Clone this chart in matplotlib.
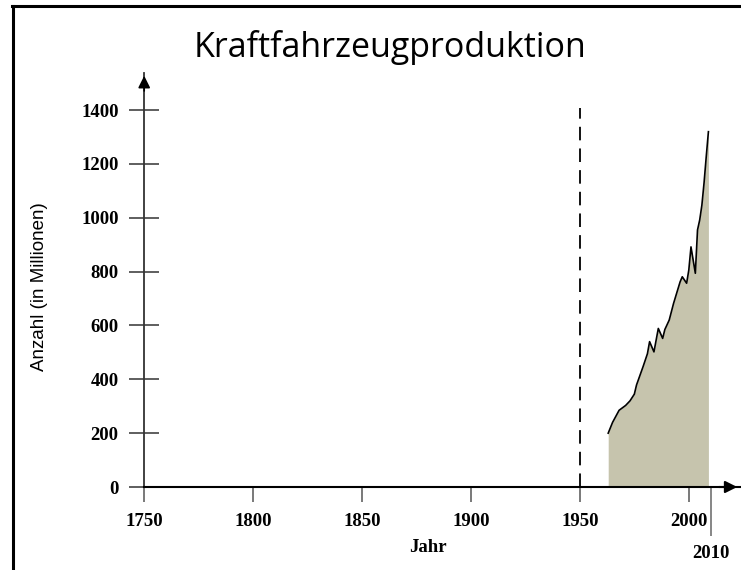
import matplotlib.pyplot as plt
from matplotlib.lines import Line2D
from matplotlib.ticker import FixedLocator, FixedFormatter

# data
years = [1963, 1965, 1968, 1971, 1973, 1975, 1976, 1979, 1981, 1982,
         1984, 1986, 1988, 1989, 1991, 1993, 1996, 1997, 1999, 2000,
         2001, 2002, 2003, 2004, 2005, 2006, 2007, 2008, 2009]
anzahl = [200, 240, 285, 303, 320, 345, 379, 447, 495, 540,
          502, 589, 552, 585, 620, 682, 762, 781, 757, 806,
          892, 843, 794, 955, 992, 1047, 1130, 1227, 1320]

xticks = [1750, 1800, 1850, 1900, 1950, 2000]
yticks = [0, 200, 400, 600, 800, 1000, 1200, 1400]
marker_year = 1950
end_year = 2010

fig = plt.figure(figsize=(7.41, 5.70), dpi=100)
ax = fig.add_axes([144.2 / 741, 83 / 570, (740 - 144.2) / 741, (487 - 73) / 570])
ax.set_xlim(1750, 2023.5)
ax.set_ylim(0, 1538)

ax.fill_between(years, anzahl, 0, color='#c6c4ad', lw=0)
ax.plot(years, anzahl, color='black', lw=1.2)

# dashed line at 1950
ax.plot([marker_year, marker_year], [0, 1408], color='black', lw=1.3,
        dashes=(7.5, 4.5))

for s in ['top', 'right']:
    ax.spines[s].set_visible(False)
ax.spines['bottom'].set_color('black')
ax.spines['bottom'].set_linewidth(1.5)
ax.spines['left'].set_color('#333333')
ax.spines['left'].set_linewidth(1.3)

serif = {'family': 'Liberation Serif', 'weight': 'bold', 'size': 13.5}

ax.set_xticks(xticks)
ax.set_xticklabels([str(x) for x in xticks], fontdict=serif)
ax.tick_params(axis='x', which='major', direction='out', length=10.8,
               width=1.1, color='#555555', pad=8)
ax.xaxis.set_minor_locator(FixedLocator([end_year]))
ax.xaxis.set_minor_formatter(FixedFormatter([str(end_year)]))
ax.tick_params(axis='x', which='minor', direction='out', length=35,
               width=1.1, color='#666666', pad=7)
for lab in ax.xaxis.get_minorticklabels():
    lab.set_fontfamily('Liberation Serif')
    lab.set_fontweight('bold')
    lab.set_fontsize(13.5)

ax.set_yticks(yticks)
ax.set_yticklabels([str(y) for y in yticks], fontdict=serif)
ax.tick_params(axis='y', direction='inout', length=21, width=1.1,
               color='#333333', pad=8)

# arrow heads on the axes
ax.annotate('', xy=(0, 1), xycoords='axes fraction', xytext=(0, 0.95),
            arrowprops=dict(arrowstyle='-|>', color='black', lw=1.2,
                            mutation_scale=18))
ax.annotate('', xy=(1, 0), xycoords='axes fraction', xytext=(0.96, 0),
            arrowprops=dict(arrowstyle='-|>', color='black', lw=1.5,
                            mutation_scale=18))

fig.text(390 / 741, 1 - 57 / 570, 'Kraftfahrzeugproduktion', ha='center',
         va='baseline', fontsize=24.5, family='Open Sans')
fig.text(40 / 741, 1 - 287 / 570, 'Anzahl (in Millionen)', rotation=90,
         ha='center', va='center', fontsize=13.5, family='Liberation Sans')
fig.text(428 / 741, 1 - 548 / 570, 'Jahr', ha='center', va='center',
         family='Liberation Serif', weight='bold', fontsize=13.5)

# frame lines at top and left of the picture
fig.add_artist(Line2D([12.5 / 741, 12.5 / 741], [0, 1 - 6 / 570],
                      color='black', lw=2.2, transform=fig.transFigure))
fig.add_artist(Line2D([11.5 / 741, 1], [1 - 6 / 570, 1 - 6 / 570],
                      color='black', lw=2.2, transform=fig.transFigure))

fig.savefig('out.png', dpi=100)
